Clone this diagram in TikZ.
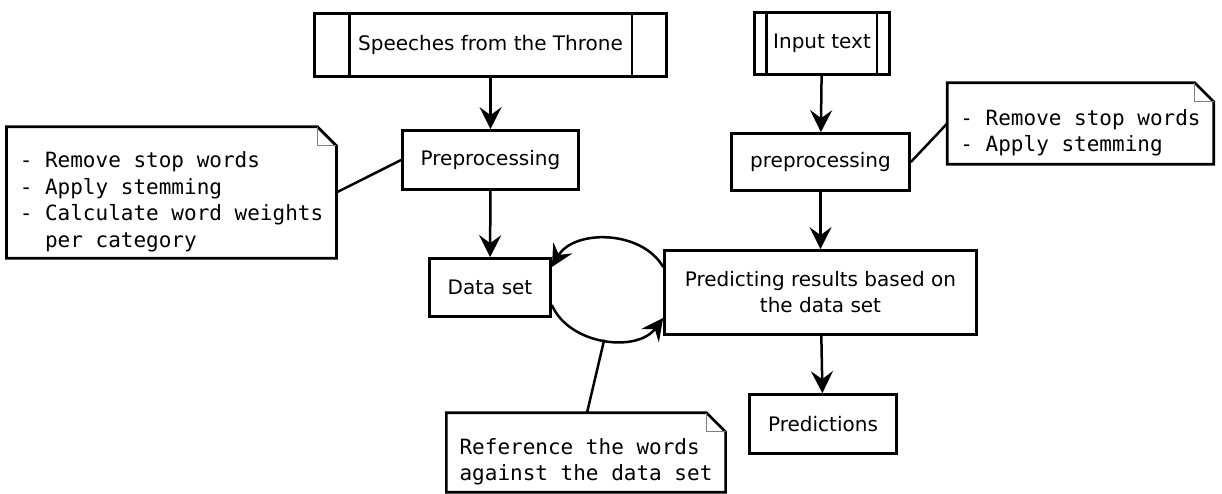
\documentclass[tikz,border=0pt]{standalone}
\usepackage{fontspec}
\setmainfont{DejaVu Sans}
\newfontfamily\monof{DejaVu Sans Mono}
\usetikzlibrary{arrows.meta}
\newcommand\dogear[2][19]{%
  \draw[line width=2.7pt, line join=miter] (#2.south west) -- (#2.north west) -- ([xshift=-#1pt]#2.north east) -- ([yshift=-#1pt]#2.north east) -- (#2.south east) -- cycle;
  \draw[line width=1.3pt, gray] ([xshift=-#1pt]#2.north east) -- ([xshift=-#1pt,yshift=-#1pt]#2.north east) -- ([yshift=-#1pt]#2.north east);
}
\newcommand\notestrut{\rule{0pt}{35pt}}
\begin{document}
\begin{tikzpicture}[x=1pt,y=-1pt,
  box/.style={draw, line width=2.7pt, font=\fontsize{20}{26}\selectfont, inner sep=0pt, align=center},
  arr/.style={line width=2.5pt, -{Stealth[length=22pt,width=22pt,inset=8pt]}},
  link/.style={line width=2.5pt},
  note/.style={font=\monof\fontsize{21}{26.5}\selectfont, align=left, inner sep=0pt, inner xsep=13pt},
]
\useasboundingbox (0,0) rectangle (1222,494);

% left column
\node[box, minimum width=352pt, minimum height=63pt] (speech) at (490.5,45) {Speeches from the Throne};
\draw[line width=2.7pt] ([xshift=36pt]speech.north west) -- ([xshift=36pt]speech.south west);
\draw[line width=2.7pt] ([xshift=-36pt]speech.north east) -- ([xshift=-36pt]speech.south east);

\node[box, minimum width=176pt, minimum height=59pt] (prep1) at (490.5,160) {Preprocessing};
\node[box, minimum width=121pt, minimum height=58pt] (data) at (490,287.5) {Data set};

% right column
\node[box, minimum width=135pt, minimum height=62pt] (input) at (822,43.5) {Input text};
\draw[line width=2.7pt] ([xshift=13pt]input.north west) -- ([xshift=13pt]input.south west);
\draw[line width=2.7pt] ([xshift=-14pt]input.north east) -- ([xshift=-14pt]input.south east);

\node[box, minimum width=178pt, minimum height=57pt] (prep2) at (820.5,162) {preprocessing};
\node[box, minimum width=312pt, minimum height=84pt] (pred) at (820.5,292.5) {Predicting results based on\\the data set};
\node[box, minimum width=147pt, minimum height=59pt] (predn) at (823,424) {Predictions};

% notes
\node[note, minimum width=325pt, minimum height=131pt] (note1) at (171.5,192.5)
  {\notestrut- Remove stop words\\- Apply stemming\\- Calculate word weights\\\phantom{- }per category};
\dogear{note1}
\node[note, minimum width=265pt, minimum height=81pt] (note2) at (1080.5,123.5)
  {\notestrut- Remove stop words\\- Apply stemming};
\dogear{note2}
\node[note, minimum width=276pt, minimum height=79pt] (note3) at (586,452.5)
  {\notestrut Reference the words\\against the data set};
\dogear{note3}

% arrows
\draw[arr] (speech) -- (prep1);
\draw[arr] (prep1) -- (data);
\draw[arr] (input) -- (prep2);
\draw[arr] (prep2) -- (pred);
\draw[arr] (pred) -- (predn);
\draw[arr] ([yshift=25.5pt]pred.west) to[bend right=60] ([yshift=20.5pt]data.east);
\draw[arr] ([yshift=-17.5pt]data.east) to[bend right=60] coordinate[pos=0.5] (cbot) ([yshift=-25.5pt]pred.west);

% note links
\draw[link] (note1.east) -- (prep1.west);
\draw[link] (prep2.east) -- (note2.west);
\draw[link] ([xshift=1pt]note3.north) -- (cbot);
\end{tikzpicture}
\end{document}
